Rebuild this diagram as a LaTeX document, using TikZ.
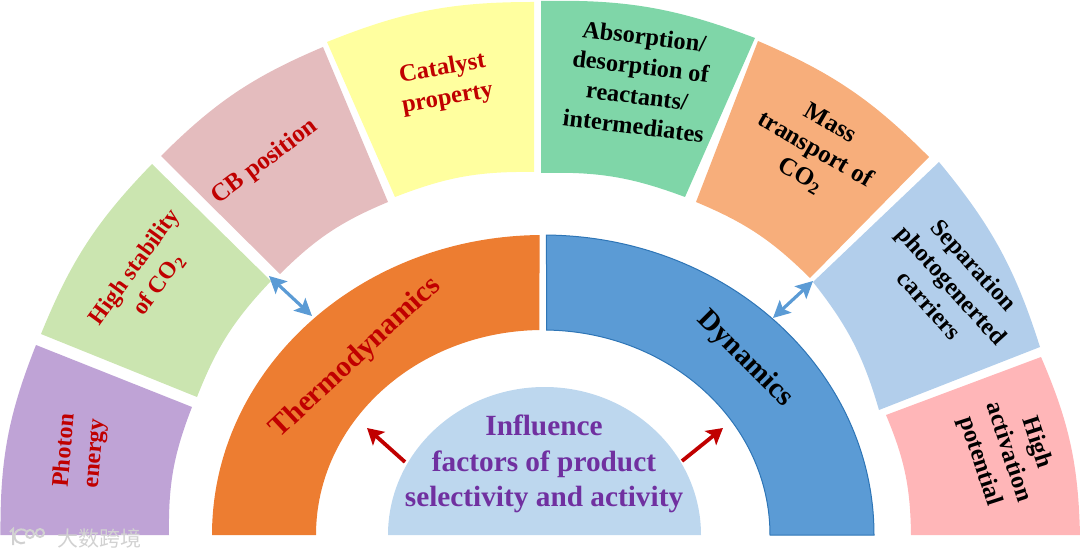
\documentclass[tikz,border=0pt]{standalone}
\usepackage{fontspec}
\setmainfont{Liberation Serif}
\newfontfamily\cjkwm{Noto Sans CJK SC}
\usetikzlibrary{arrows.meta}
\definecolor{redtxt}{HTML}{C00000}
\definecolor{purpletxt}{HTML}{7030A0}
\definecolor{ringorange}{HTML}{ED7D31}
\definecolor{ringblue}{HTML}{5B9BD5}
\definecolor{ringedge}{HTML}{2E75B6}
\definecolor{corefill}{HTML}{BDD7EE}
\definecolor{secA}{HTML}{BFA3D6}
\definecolor{secB}{HTML}{CBE5B0}
\definecolor{secC}{HTML}{E4BCBE}
\definecolor{secD}{HTML}{FFFF9F}
\definecolor{secE}{HTML}{7FD6A8}
\definecolor{secF}{HTML}{F7AE7B}
\definecolor{secG}{HTML}{B2CEEB}
\definecolor{secH}{HTML}{FFB6B8}

\begin{document}
\begin{tikzpicture}[x=1pt, y=1pt,
  lbl/.style={font=\fontsize{#1}{30}\selectfont\bfseries, align=center, inner sep=0pt},
  lbl/.default=24.5,
  dbl/.style={{Stealth[length=17pt,width=17pt,inset=3.5pt]}-{Stealth[length=17pt,width=17pt,inset=3.5pt]}, line width=3.2pt, ringblue},
  push/.style={-{Stealth[length=16pt,width=18pt,inset=3.5pt]}, line width=3.8pt, redtxt},
  wm/.style={white!82!black, line width=2pt}
]
  \useasboundingbox (0, 0) rectangle (1080, 558);

  % Outer band
  \foreach \ax/\ay/\bx/\by/\cx/\cy/\dx/\dy/\col in {
    0.5/23/36/213/192/151/169/23/secA,
    41/224/152/394/271/277/197/161/secB,
    161/402/323/511/388/356/280/284/secC,
    327/516/534/556/534/386/395/361/secD,
    541/557/755/520/685/361/541/385/secE,
    758/517/929/401/810/280/696/356/secF,
    939/396/1040/211/879/148/813/276/secG,
    1041/201/1080/23/911/23/886/143/secH}{
    \fill[\col] (\ax, \ay) to[bend left=11] (\bx, \by) -- (\cx, \cy) to[bend right=11] (\dx, \dy) -- cycle;
  }

  % Middle ring
  \begin{scope}[shift={(543, 23)}]
    \fill[ringorange] (180:331 and 300) arc[start angle=180, end angle=90.6, x radius=331pt, y radius=300pt]
      -- (90.9:227 and 205) arc[start angle=90.9, end angle=180, x radius=227pt, y radius=205pt] -- cycle;
    \draw[fill=ringblue, draw=ringedge, line width=1pt] (89.4:331 and 300) arc[start angle=89.4, end angle=0, x radius=331pt, y radius=300pt]
      -- (0:227 and 205) arc[start angle=0, end angle=89.1, x radius=227pt, y radius=205pt] -- cycle;
  \end{scope}

  % Core
  \fill[corefill] (388, 23) arc[start angle=180, end angle=0, x radius=156.5pt, y radius=148pt] -- cycle;

  \node[lbl=24, redtxt, rotate=85] (photon) at (80, 106) {\baselineskip=33pt Photon\\energy};
  \node[lbl=23.5, redtxt, rotate=54] (stability) at (147, 282) {High stability\\of CO\textsubscript{2}};
  \node[lbl=25, redtxt, rotate=37] (cbpos) at (265, 396) {CB position};
  \node[lbl=24.5, redtxt, rotate=10] (catalyst) at (445, 474) {Catalyst\\property};
  \node[lbl=24.3, rotate=-7] (absorb) at (639, 477) {Absorption/\\desorption of\\reactants/\\intermediates};
  \node[lbl=25, rotate=-30] (masstr) at (815, 408) {Mass\\transport of\\CO\textsubscript{2}};
  \node[lbl=24.5, rotate=-48] (separ) at (952, 273) {Separation\\photogenerted\\carriers};
  \node[lbl=24.5, rotate=-72] (highpot) at (1008, 106) {High\\activation\\potential};

  \node[lbl=29.5, redtxt, rotate=43] (thermo) at (356, 200) {Thermodynamics};
  \node[lbl=29, rotate=-45] (dyn) at (745, 199) {Dynamics};
  \node[font=\fontsize{29.3}{35.5}\selectfont\bfseries, purpletxt, align=center, inner sep=0pt] (core) at (544, 94) {Influence\\factors of product\\selectivity and activity};

  \coordinate (stabTip) at (269, 282);
  \coordinate (thermoTip) at (312, 242);
  \coordinate (separTip) at (813, 277);
  \coordinate (dynTip) at (773, 240);
  \coordinate (coreL) at (405, 96);
  \coordinate (coreR) at (682, 97);
  \coordinate (pushL) at (367, 130);
  \coordinate (pushR) at (723, 130);
  \draw[dbl] (stabTip) -- (thermoTip);
  \draw[dbl] (separTip) -- (dynTip);
  \draw[push] (coreL) -- (pushL);
  \draw[push] (coreR) -- (pushR);

  % Watermark
  \draw[wm] (10, 26) -- (13, 29) -- (13, 13);
  \draw[wm] (26, 27) arc[start angle=50, end angle=300, radius=7pt];
  \draw[wm] (30, 24) circle[radius=4pt];
  \draw[wm] (40, 25) circle[radius=4pt];
  \node[font=\cjkwm\fontsize{21}{21}\selectfont, white!82!black, inner sep=0pt] (wmark) at (99, 20) {大数跨境};
\end{tikzpicture}
\end{document}
